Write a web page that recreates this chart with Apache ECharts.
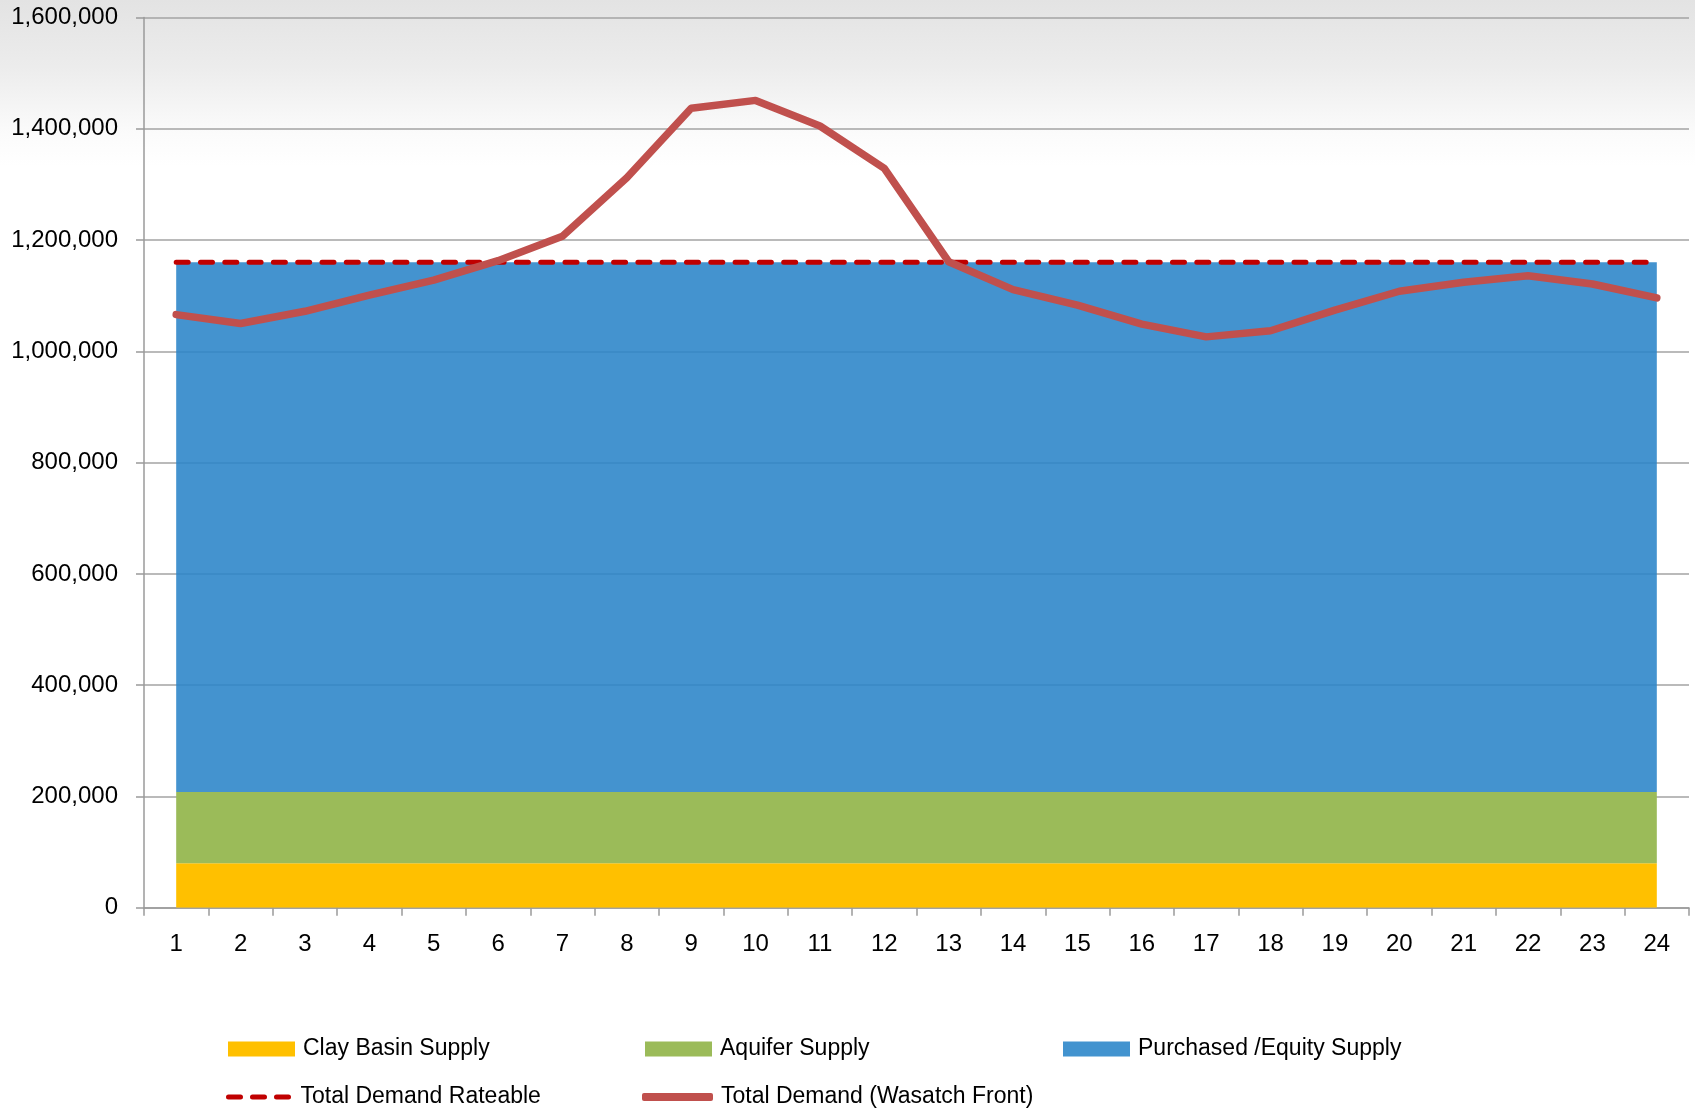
<!DOCTYPE html>
<html>
<head>
<meta charset="utf-8">
<script src="https://cdn.jsdelivr.net/npm/echarts@6/dist/echarts.min.js"></script>
<style>
html,body{margin:0;padding:0;background:#fff;}
#chart{width:1695px;height:1110px;}
</style>
</head>
<body>
<div id="chart"></div>
<script>
const categories = ['1','2','3','4','5','6','7','8','9','10','11','12','13','14','15','16','17','18','19','20','21','22','23','24'];
const clayBasinSupply = [80000,80000,80000,80000,80000,80000,80000,80000,80000,80000,80000,80000,80000,80000,80000,80000,80000,80000,80000,80000,80000,80000,80000,80000];
const aquiferSupply = [128000,128000,128000,128000,128000,128000,128000,128000,128000,128000,128000,128000,128000,128000,128000,128000,128000,128000,128000,128000,128000,128000,128000,128000];
const purchasedSupply = [952000,952000,952000,952000,952000,952000,952000,952000,952000,952000,952000,952000,952000,952000,952000,952000,952000,952000,952000,952000,952000,952000,952000,952000];
const totalDemandRateable = [1160000,1160000,1160000,1160000,1160000,1160000,1160000,1160000,1160000,1160000,1160000,1160000,1160000,1160000,1160000,1160000,1160000,1160000,1160000,1160000,1160000,1160000,1160000,1160000];
const totalDemandWasatch = [1066000,1050000,1072000,1101000,1128000,1163000,1207000,1312000,1437000,1451000,1405000,1329000,1161000,1111000,1083000,1049000,1026000,1037000,1074000,1108000,1124000,1136000,1121000,1096000];
const yTicks = [0,200000,400000,600000,800000,1000000,1200000,1400000,1600000];

const FONT = 'Liberation Sans';
const chart = echarts.init(document.getElementById('chart'), null, {renderer:'canvas'});

function legendAt(item, left, top, iw, ih) {
  return {
    left: left, top: top, padding: 0, orient: 'horizontal',
    itemWidth: iw || 67, itemHeight: ih || 15, selectedMode: false,
    textStyle: {fontFamily: FONT, fontSize: 23, color: '#000', lineHeight: 28, padding: [0,0,0,3]},
    data: [item]
  };
}

const DASH_ICON = 'path://M2.5,0 h12 a2.5,2.5 0 0 1 0,5 h-12 a2.5,2.5 0 0 1 0,-5 z M26.5,0 h12 a2.5,2.5 0 0 1 0,5 h-12 a2.5,2.5 0 0 1 0,-5 z M50.5,0 h12 a2.5,2.5 0 0 1 0,5 h-12 a2.5,2.5 0 0 1 0,-5 z';

const option = {
  animation: false,
  backgroundColor: {
    type: 'linear', x: 0, y: 0, x2: 0, y2: 1,
    colorStops: [
      {offset: 0, color: '#e3e3e3'},
      {offset: 0.06, color: '#ececec'},
      {offset: 0.12, color: '#fbfbfb'},
      {offset: 0.15, color: '#ffffff'},
      {offset: 1, color: '#ffffff'}
    ]
  },
  grid: {left: 144, right: 6, top: 17.5, bottom: 202.3, containLabel: false},
  legend: [
    legendAt({name:'Clay Basin Supply', icon:'rect', itemStyle:{color:'#FFC000', borderWidth:0}}, 228, 1035),
    legendAt({name:'Aquifer Supply', icon:'rect', itemStyle:{color:'#9BBB59', borderWidth:0}}, 645, 1035),
    legendAt({name:'Purchased /Equity Supply', icon:'rect', itemStyle:{color:'#4293CF', borderWidth:0}}, 1063, 1035),
    legendAt({name:'Total Demand Rateable', icon: DASH_ICON, itemStyle:{color:'#C00000', borderWidth:0}}, 226, 1083, 68, 5),
    legendAt({name:'Total Demand (Wasatch Front)', icon:'roundRect', itemStyle:{color:'#C0504D', borderWidth:0}}, 642, 1083, 71, 8)
  ],
  xAxis: {
    type: 'category',
    data: categories,
    boundaryGap: true,
    axisLine: {show: true, lineStyle: {color: '#9a9a9a', width: 1.5}},
    axisTick: {show: true, length: 8, alignWithLabel: false, lineStyle: {color: '#9a9a9a', width: 1.5}},
    axisLabel: {fontFamily: FONT, fontSize: 24, color: '#000', margin: 25, interval: 0},
    splitLine: {show: false}
  },
  yAxis: {
    type: 'value',
    min: 0, max: 1600000, interval: 200000,
    axisLine: {show: true, lineStyle: {color: '#9a9a9a', width: 1.5}},
    axisTick: {show: true, length: 8, lineStyle: {color: '#9a9a9a', width: 1.5}},
    axisLabel: {
      fontFamily: FONT, fontSize: 24, color: '#000', margin: 26, padding: [4, 0, 0, 0],
      formatter: function (v) { return yTicks.indexOf(v) >= 0 ? v.toLocaleString('en-US') : ''; }
    },
    splitLine: {show: true, lineStyle: {color: '#a3a3a3', width: 1.5}}
  },
  series: [
    {
      name: 'Clay Basin Supply', type: 'line', stack: 'supply', data: clayBasinSupply,
      symbol: 'none', showSymbol: false,
      lineStyle: {width: 0, color: '#FFC000'},
      itemStyle: {color: '#FFC000'},
      areaStyle: {color: '#FFC000', opacity: 1},
      z: 2
    },
    {
      name: 'Aquifer Supply', type: 'line', stack: 'supply', data: aquiferSupply,
      symbol: 'none', showSymbol: false,
      lineStyle: {width: 0, color: '#9BBB59'},
      itemStyle: {color: '#9BBB59'},
      areaStyle: {color: '#9BBB59', opacity: 1},
      z: 2
    },
    {
      name: 'Purchased /Equity Supply', type: 'line', stack: 'supply', data: purchasedSupply,
      symbol: 'none', showSymbol: false,
      lineStyle: {width: 0, color: '#4293CF'},
      itemStyle: {color: '#4293CF'},
      areaStyle: {color: '#2a84c8', opacity: 0.88},
      z: 2
    },
    {
      name: 'Total Demand Rateable', type: 'line', data: totalDemandRateable,
      symbol: 'none', showSymbol: false,
      itemStyle: {color: '#C00000'},
      lineStyle: {color: '#C00000', width: 5, type: [12, 12.3], cap: 'round'},
      z: 3
    },
    {
      name: 'Total Demand (Wasatch Front)', type: 'line', data: totalDemandWasatch,
      symbol: 'none', showSymbol: false,
      itemStyle: {color: '#C0504D'},
      lineStyle: {color: '#C0504D', width: 7.5, cap: 'round', join: 'round'},
      z: 4
    }
  ]
};
chart.setOption(option);
</script>
</body>
</html>
